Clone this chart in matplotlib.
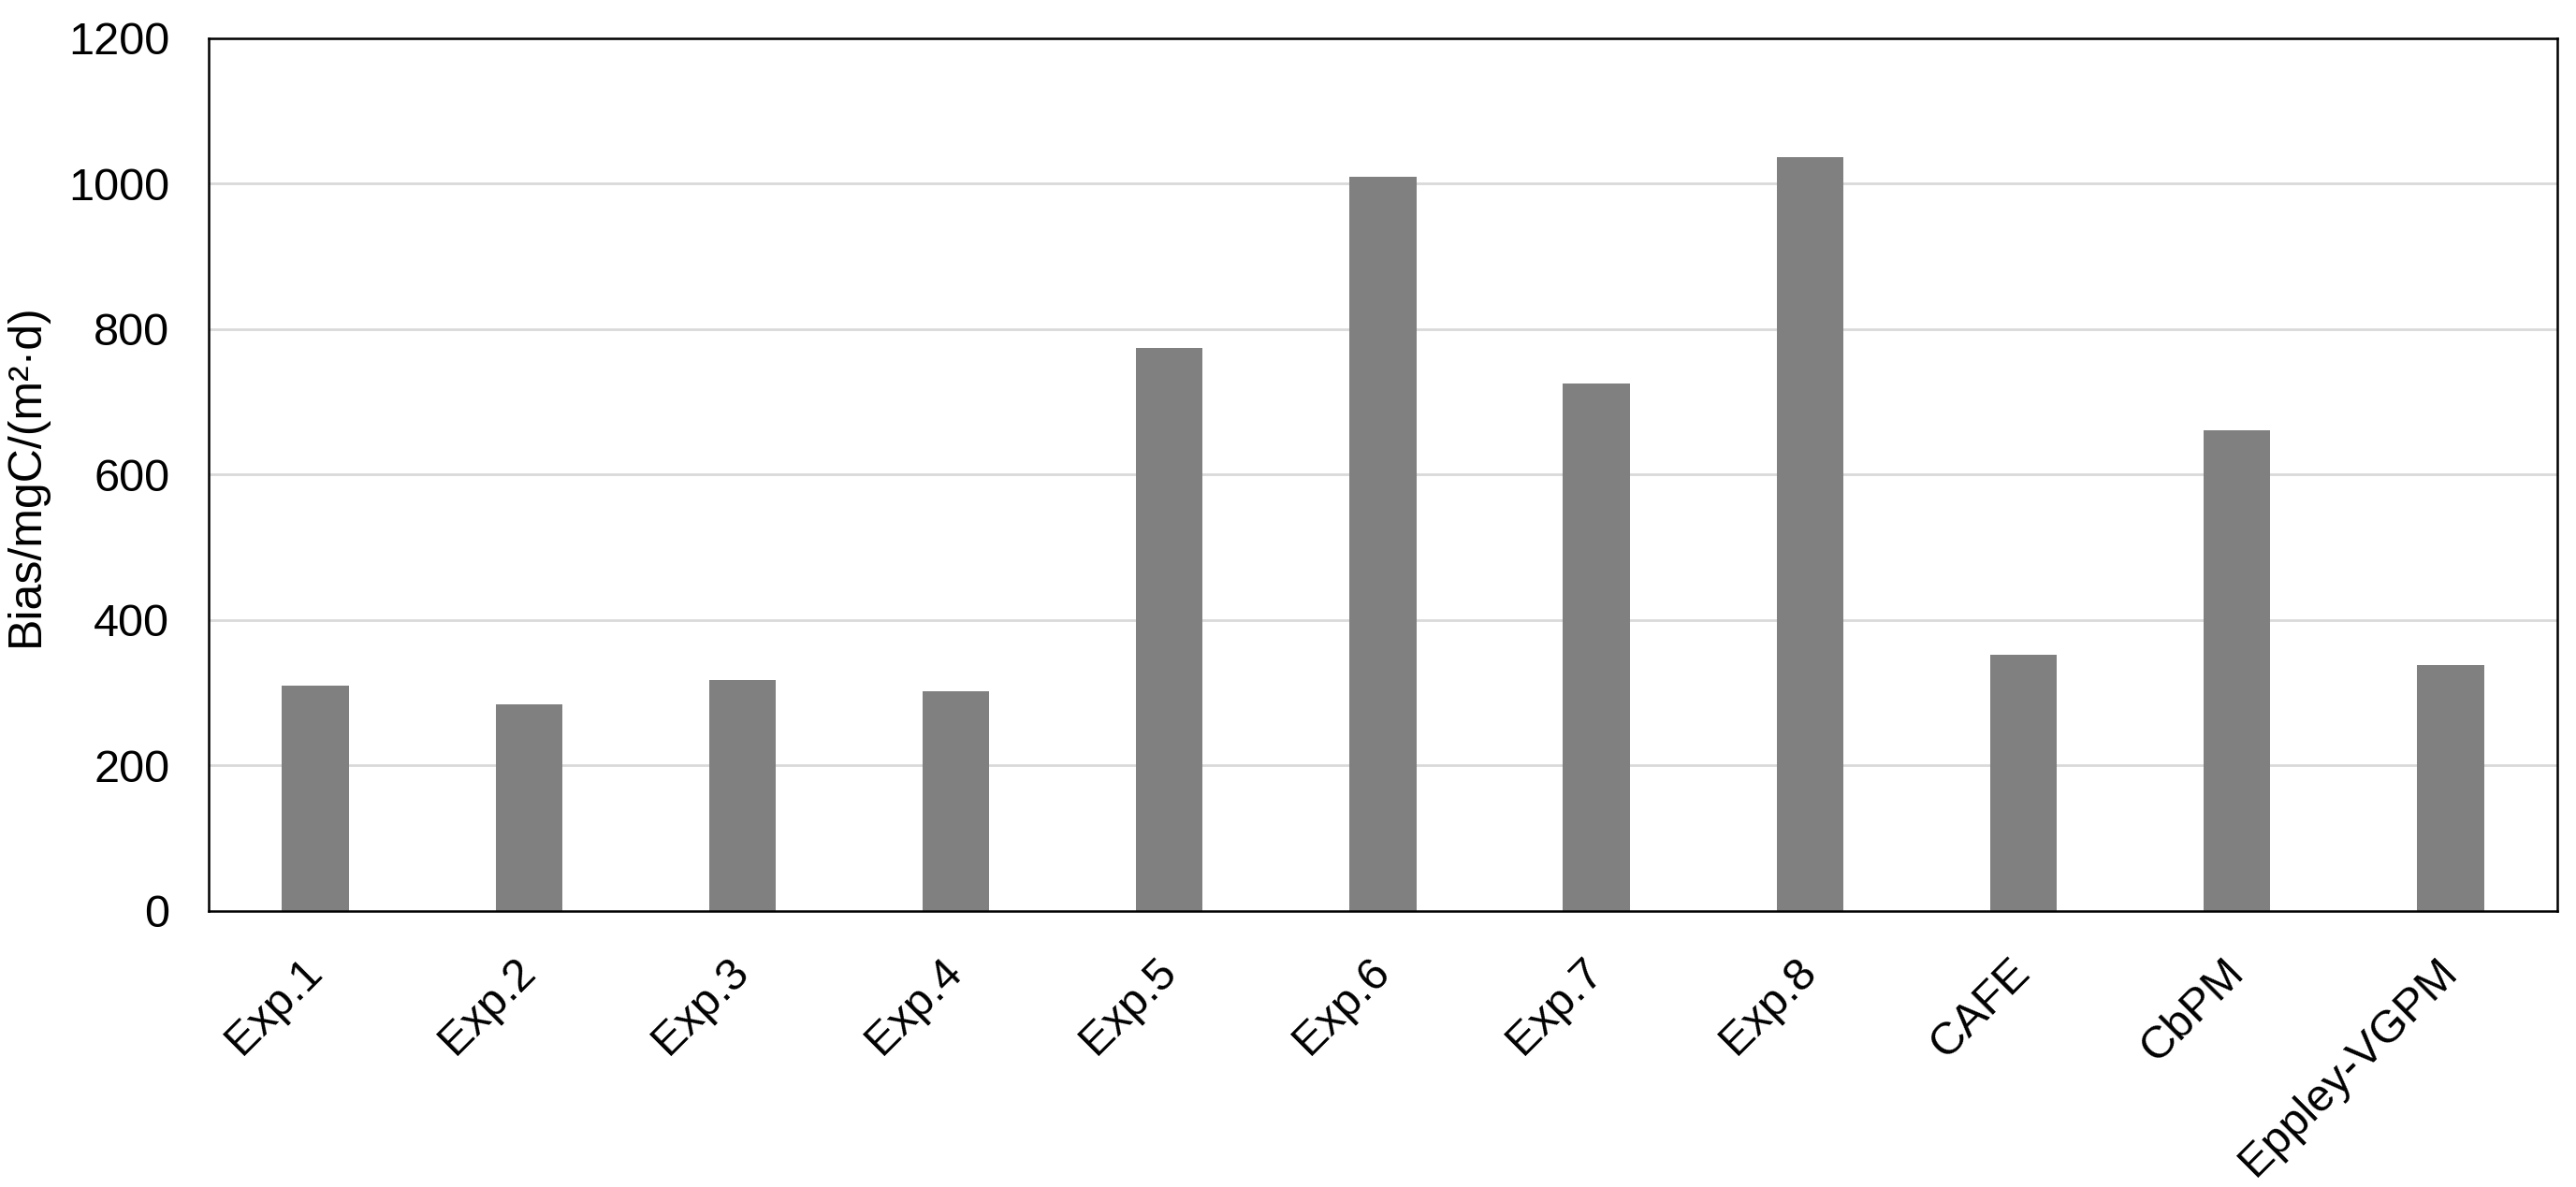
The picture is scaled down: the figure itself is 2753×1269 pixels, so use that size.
import numpy as np
import matplotlib
matplotlib.use('Agg')
import matplotlib.pyplot as plt

plt.rcParams['font.family'] = ['Liberation Sans', 'DejaVu Sans']

# categories and bias values
labels = ['Exp.1', 'Exp.2', 'Exp.3', 'Exp.4', 'Exp.5', 'Exp.6', 'Exp.7', 'Exp.8',
          'CAFE', 'CbPM', 'Eppley-VGPM']
bias = [310, 284, 318, 302, 774, 1010, 726, 1037, 352, 661, 338]
yticks = [0, 200, 400, 600, 800, 1000, 1200]

fig = plt.figure(figsize=(27.53, 12.69), dpi=100)
ax = fig.add_axes([0.081, 0.2325, 0.9117, 0.7352])

x = np.arange(len(labels))
ax.bar(x, bias, width=0.313, color='#808080', zorder=2)

ax.set_xlim(-0.5, len(labels) - 0.5)
ax.set_ylim(0, 1200)
ax.set_yticks(yticks)
ax.set_yticklabels([str(v) for v in yticks], fontsize=35)
ax.set_xticks(x)
ax.set_xticklabels(labels, fontsize=35, rotation=45, ha='right', va='center',
                   rotation_mode='anchor')
ax.tick_params(axis='both', length=0)
ax.tick_params(axis='y', pad=30)
ax.tick_params(axis='x', pad=42)

ax.grid(axis='y', color='#d9d9d9', linewidth=2, zorder=0)
ax.set_axisbelow(True)
for s in ax.spines.values():
    s.set_linewidth(1.8)
    s.set_color('black')

ax.set_ylabel('Bias/mgC/(m²·d)', fontsize=36, labelpad=16)

fig.savefig('out.png', dpi=100)
